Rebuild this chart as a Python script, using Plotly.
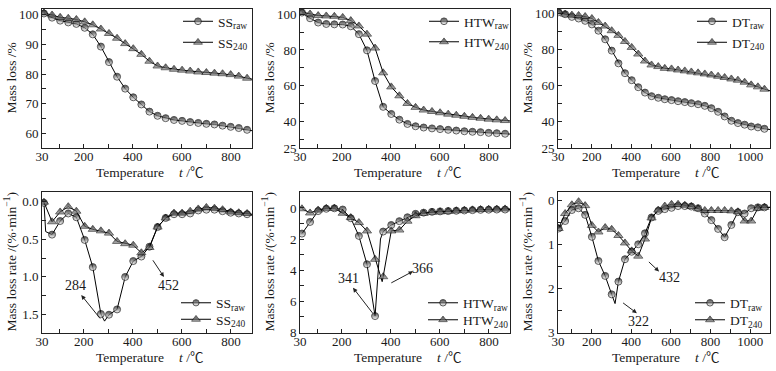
import plotly.graph_objects as go

# ---------------- data ----------------
# marker temperatures (°C)
T_SH = [38, 71, 104, 137, 170, 204, 237, 270, 303, 336, 369, 402, 435, 468, 501, 534,
        568, 601, 634, 667, 700, 733, 766, 799, 832, 866]
T_DT = [33, 66, 100, 134, 167, 201, 234, 268, 301, 335, 368, 402, 435, 469, 502, 536,
        569, 603, 636, 670, 703, 737, 771, 804, 838, 871, 905, 938, 972, 1005, 1039, 1072]

# TG curves (mass loss, %)
SS_raw_tg = [100.3, 98.9, 97.9, 97.3, 96.8, 95.5, 93.3, 89.2, 84.0, 79.1, 75.1, 72.2, 69.8,
             67.4, 66.0, 65.2, 64.6, 64.3, 63.9, 63.6, 63.3, 63.1, 62.7, 62.3, 61.9, 61.3]
SS_240_tg = [100.5, 99.8, 99.0, 98.7, 98.3, 97.5, 96.5, 95.1, 93.6, 92.0, 90.2, 88.5, 86.6,
             84.3, 82.7, 82.1, 81.6, 81.3, 81.0, 80.7, 80.5, 80.3, 80.1, 79.8, 79.3, 78.6]
HTW_raw_tg = [101.0, 97.8, 95.4, 94.6, 94.4, 94.3, 93.3, 88.9, 79.8, 62.6, 48.1, 44.1, 40.9,
              38.5, 37.2, 36.5, 36.0, 35.6, 35.2, 34.8, 34.4, 34.1, 33.9, 33.5, 33.3, 33.0]
HTW_240_tg = [101.3, 100.2, 99.3, 99.1, 98.9, 98.3, 96.5, 93.5, 88.9, 81.1, 67.2, 59.3, 54.3,
              50.0, 47.8, 46.3, 45.5, 44.8, 44.0, 43.4, 42.8, 42.2, 41.7, 41.2, 40.8, 40.4]
DT_raw_tg = [100.7, 99.6, 98.1, 97.2, 95.9, 93.9, 90.4, 85.6, 79.3, 72.2, 66.7, 62.8, 58.9,
             55.9, 53.9, 53.0, 52.2, 51.7, 51.1, 50.6, 50.0, 49.4, 48.5, 47.2, 45.2, 42.6,
             40.2, 38.9, 38.0, 37.0, 36.5, 35.7]
DT_240_tg = [100.9, 99.6, 99.1, 98.9, 98.3, 97.2, 95.0, 93.0, 90.4, 87.8, 84.4, 81.1, 77.4,
             73.5, 71.3, 70.4, 69.4, 69.1, 68.5, 68.0, 67.4, 66.9, 66.3, 65.7, 65.0, 64.3,
             63.5, 62.8, 61.7, 60.2, 59.1, 57.8]

# DTG curves (mass loss rate, %/min)
SS_raw_dtg = [0.02, 0.44, 0.26, 0.16, 0.21, 0.51, 0.87, 1.49, 1.50, 1.43, 1.00, 0.79, 0.73,
              0.60, 0.34, 0.22, 0.17, 0.17, 0.16, 0.12, 0.11, 0.11, 0.13, 0.15, 0.16, 0.17]
SS_240_dtg = [0.01, 0.27, 0.14, 0.07, 0.13, 0.33, 0.37, 0.39, 0.42, 0.53, 0.56, 0.58, 0.68,
              0.61, 0.34, 0.22, 0.155, 0.155, 0.13, 0.10, 0.08, 0.09, 0.11, 0.14, 0.15, 0.16]
HTW_raw_dtg = [1.65, 0.90, 0.20, 0.05, 0.02, 0.10, 0.66, 1.80, 3.63, 6.97, 1.52, 1.10, 0.85,
               0.60, 0.38, 0.30, 0.25, 0.22, 0.20, 0.18, 0.16, 0.14, 0.12, 0.11, 0.10, 0.10]
HTW_240_dtg = [0.05, 0.32, 0.13, 0.02, 0.02, 0.34, 0.62, 0.94, 1.48, 3.31, 4.43, 1.48, 1.42,
               0.85, 0.50, 0.35, 0.28, 0.25, 0.22, 0.18, 0.15, 0.12, 0.10, 0.08, 0.07, 0.06]
DT_raw_dtg = [0.64, 0.47, 0.22, 0.18, 0.33, 0.83, 1.38, 1.72, 2.14, 1.85, 1.34, 1.17, 1.00,
              0.75, 0.39, 0.24, 0.20, 0.17, 0.13, 0.13, 0.14, 0.18, 0.30, 0.45, 0.65, 0.84,
              0.56, 0.27, 0.30, 0.18, 0.16, 0.16]
DT_240_dtg = [0.64, 0.30, 0.10, 0.03, 0.12, 0.57, 0.72, 0.62, 0.66, 0.80, 0.97, 1.15, 1.27,
              0.88, 0.40, 0.22, 0.13, 0.09, 0.09, 0.11, 0.14, 0.19, 0.23, 0.23, 0.23, 0.23,
              0.24, 0.26, 0.47, 0.47, 0.18, 0.16]

# extra curve points (continuous recording between markers: peaks and curve ends)
SS_raw_tg_ext = ([886], [61.0])
SS_240_tg_ext = ([886], [78.3])
HTW_raw_tg_ext = ([886], [32.8])
HTW_240_tg_ext = ([886], [40.2])
DT_raw_tg_ext = ([1100], [35.3])
DT_240_tg_ext = ([1100], [56.9])
SS_raw_dtg_ext = ([45, 285, 886], [0.40, 1.585, 0.18])
SS_240_dtg_ext = ([886], [0.17])
HTW_raw_dtg_ext = ([358, 886], [2.0, 0.10])
HTW_240_dtg_ext = ([365, 886], [4.75, 0.06])
DT_raw_dtg_ext = ([318, 1100], [2.35, 0.16])
DT_240_dtg_ext = ([1100], [0.16])

# peak labels: (text, text x, text y, arrow tail x, tail y, head x, head y)
PEAKS_SS = [("284", 165, 1.11, 272, 1.57, 190, 1.24), ("452", 544, 1.11, 478, 0.76, 527, 1.0)]
PEAKS_HTW = [("341", 226, 4.53, 330, 6.86, 246, 5.14), ("366", 531, 3.91, 396, 4.88, 491, 4.08)]
PEAKS_DT = [("322", 436, 2.75, 351, 2.31, 428, 2.57), ("432", 595, 1.76, 481, 1.37, 540, 1.62)]

# ---------------- figure ----------------
W, H = 776, 371
FONT = "Liberation Serif, Times New Roman, Noto Sans CJK SC, serif"
TXT = "#1a1a1a"

fig = go.Figure()

def add_series(xs, ys, ext, name, sym, axis_n, legend_id):
    pts = [(x, y, 7) for x, y in zip(xs, ys)] + [(x, y, 0) for x, y in zip(ext[0], ext[1])]
    pts.sort(key=lambda p: p[0])
    if sym == "circle":
        mk = dict(symbol="circle", size=[p[2] for p in pts], color="#000000",
                  gradient=dict(type="vertical", color="#ffffff"),
                  line=dict(color="#000000", width=0.9))
    else:
        mk = dict(symbol="triangle-up", size=[p[2] + 1 if p[2] else 0 for p in pts],
                  color="#000000", gradient=dict(type="vertical", color="#9a9a9a"),
                  line=dict(color="#000000", width=0.8))
    sfx = "" if axis_n == 1 else str(axis_n)
    fig.add_trace(go.Scatter(
        x=[p[0] for p in pts], y=[p[1] for p in pts], mode="lines+markers",
        line=dict(color="#000000", width=1), marker=mk, name=name,
        xaxis="x" + sfx, yaxis="y" + sfx, legend=legend_id, showlegend=True))

series = [
    (T_SH, SS_raw_tg, SS_raw_tg_ext, "SS<sub>raw</sub>", "circle", 1),
    (T_SH, SS_240_tg, SS_240_tg_ext, "SS<sub>240</sub>", "tri", 1),
    (T_SH, HTW_raw_tg, HTW_raw_tg_ext, "HTW<sub>raw</sub>", "circle", 2),
    (T_SH, HTW_240_tg, HTW_240_tg_ext, "HTW<sub>240</sub>", "tri", 2),
    (T_DT, DT_raw_tg, DT_raw_tg_ext, "DT<sub>raw</sub>", "circle", 3),
    (T_DT, DT_240_tg, DT_240_tg_ext, "DT<sub>240</sub>", "tri", 3),
    (T_SH, SS_raw_dtg, SS_raw_dtg_ext, "SS<sub>raw</sub>", "circle", 4),
    (T_SH, SS_240_dtg, SS_240_dtg_ext, "SS<sub>240</sub>", "tri", 4),
    (T_SH, HTW_raw_dtg, HTW_raw_dtg_ext, "HTW<sub>raw</sub>", "circle", 5),
    (T_SH, HTW_240_dtg, HTW_240_dtg_ext, "HTW<sub>240</sub>", "tri", 5),
    (T_DT, DT_raw_dtg, DT_raw_dtg_ext, "DT<sub>raw</sub>", "circle", 6),
    (T_DT, DT_240_dtg, DT_240_dtg_ext, "DT<sub>240</sub>", "tri", 6),
]
for i, (xs, ys, ext, name, sym, ax) in enumerate(series):
    add_series(xs, ys, ext, name, sym, ax, "legend" if i == 0 else "legend%d" % (i + 1))

# panel frames in pixels: (left, right) and (top, bottom)
cols = [(42, 252), (300, 510), (558, 770)]
rows = [(9, 148), (192, 333)]

def xdom(c):
    return [cols[c][0] / W, cols[c][1] / W]

def ydom(r):
    return [1 - rows[r][1] / H, 1 - rows[r][0] / H]

ax_common = dict(showline=True, linecolor="#222222", linewidth=1, mirror=True,
                 ticks="inside", ticklen=4, tickcolor="#222222", tickwidth=1,
                 showgrid=False, zeroline=False, tickmode="array",
                 tickfont=dict(family=FONT, size=13, color=TXT))

x_sh_major = [30, 200, 400, 600, 800]
x_sh_minor = [100, 300, 500, 700]
x_dt_major = [30, 200, 400, 600, 800, 1000]
x_dt_minor = [100, 300, 500, 700, 900]

y_specs = {
    1: ([55.2, 101.8], [60, 70, 80, 90, 100], ["60", "70", "80", "90", "100"],
        [65, 75, 85, 95]),
    2: ([25, 103], [25, 40, 60, 80, 100], ["25", "40", "60", "80", "100"],
        [30, 50, 70, 90]),
    3: ([25, 102.5], [25, 40, 60, 80, 100], ["25", "40", "60", "80", "100"],
        [30, 50, 70, 90]),
    4: ([1.742, -0.124], [0, 0.5, 1.0, 1.5], ["0.0", "0.5", "1.0", "1.5"],
        [0.25, 0.75, 1.25]),
    5: ([8.06, -1.03], [0, 2, 4, 6, 8], ["0", "2", "4", "6", "8"], [1, 3, 5, 7]),
    6: ([3.02, -0.19], [0, 1, 2, 3], ["0", "1", "2", "3"], [0.5, 1.5, 2.5]),
}

minor_style = dict(ticks="inside", ticklen=4, tickcolor="#222222", tickwidth=1,
                   tickmode="array", showgrid=False)

layout = dict(width=W, height=H, margin=dict(l=0, r=0, t=0, b=0, autoexpand=False),
              paper_bgcolor="white", plot_bgcolor="white", showlegend=True)
for n in range(1, 7):
    c = (n - 1) % 3
    r = (n - 1) // 3
    sfx = "" if n == 1 else str(n)
    if c == 2:
        xr, xv, xm = [30, 1100], x_dt_major, x_dt_minor
    else:
        xr, xv, xm = [30, 886], x_sh_major, x_sh_minor
    layout["xaxis" + sfx] = dict(ax_common, domain=xdom(c), range=xr, tickvals=xv,
                                 ticktext=[str(v) for v in xv], ticklabelstandoff=-4,
                                 minor=dict(minor_style, tickvals=xm), anchor="y" + sfx)
    yr, yv, yt, ym = y_specs[n]
    layout["yaxis" + sfx] = dict(ax_common, domain=ydom(r), range=yr, tickvals=yv, ticktext=yt,
                                 minor=dict(minor_style, tickvals=ym),
                                 anchor="x" + sfx, autorange=False)

# legends: (text start x px, centre y px)
leg_pos = [(220, 21.5), (220, 42.5), (466, 21.5), (466, 42), (734, 21.5), (734, 42.5),
           (218, 303), (218, 319.5), (465, 303), (465, 320), (732, 303), (732, 320)]
for i, (tx, my) in enumerate(leg_pos):
    key = "legend" if i == 0 else "legend%d" % (i + 1)
    layout[key] = dict(x=(tx - 42) / W, y=1 - my / H, xanchor="left", yanchor="middle",
                       bgcolor="rgba(0,0,0,0)", borderwidth=0, itemwidth=30,
                       font=dict(family=FONT, size=13.5, color=TXT), tracegroupgap=0)

fig.update_layout(**layout)

ann = []
for c in range(3):
    off = [0, 258, 516][c]
    for r, ty in ((0, 172), (1, 357)):
        ann.append(dict(xref="paper", yref="paper", x=(off + 130) / W, y=1 - ty / H,
                        text="Temperature", showarrow=False, xanchor="center",
                        yanchor="middle", font=dict(family=FONT, size=13.5, color=TXT)))
        ann.append(dict(xref="paper", yref="paper", x=(off + 191) / W, y=1 - ty / H,
                        text="<i>t</i> /℃", showarrow=False, xanchor="center",
                        yanchor="middle", font=dict(family=FONT, size=13.5, color=TXT)))
    lx = cols[c][0] - 31
    for r, txt in ((0, "Mass loss /%"), (1, "Mass loss rate /(%·min<sup>−1</sup>)")):
        cy = (rows[r][0] + rows[r][1]) / 2
        ann.append(dict(xref="paper", yref="paper", x=lx / W, y=1 - cy / H, text=txt,
                        textangle=-90, showarrow=False, xanchor="center", yanchor="middle",
                        font=dict(family=FONT, size=13.5, color=TXT)))

for n, peaks in ((4, PEAKS_SS), (5, PEAKS_HTW), (6, PEAKS_DT)):
    xr_, yr_ = "x%d" % n, "y%d" % n
    for (t, tx, ty, axx, ayy, hx, hy) in peaks:
        ann.append(dict(xref=xr_, yref=yr_, x=tx, y=ty, text=t, showarrow=False,
                        font=dict(family=FONT, size=14, color=TXT)))
        ann.append(dict(xref=xr_, yref=yr_, x=hx, y=hy, ax=axx, ay=ayy, axref=xr_, ayref=yr_,
                        text="", showarrow=True, arrowhead=2, arrowsize=0.9, arrowwidth=1,
                        arrowcolor="#222222", standoff=0, startstandoff=0))
fig.update_layout(annotations=ann)

fig.write_html("out.html", config={"displayModeBar": False},
               post_script="document.body.style.margin='0px';document.body.style.padding='0px';")
